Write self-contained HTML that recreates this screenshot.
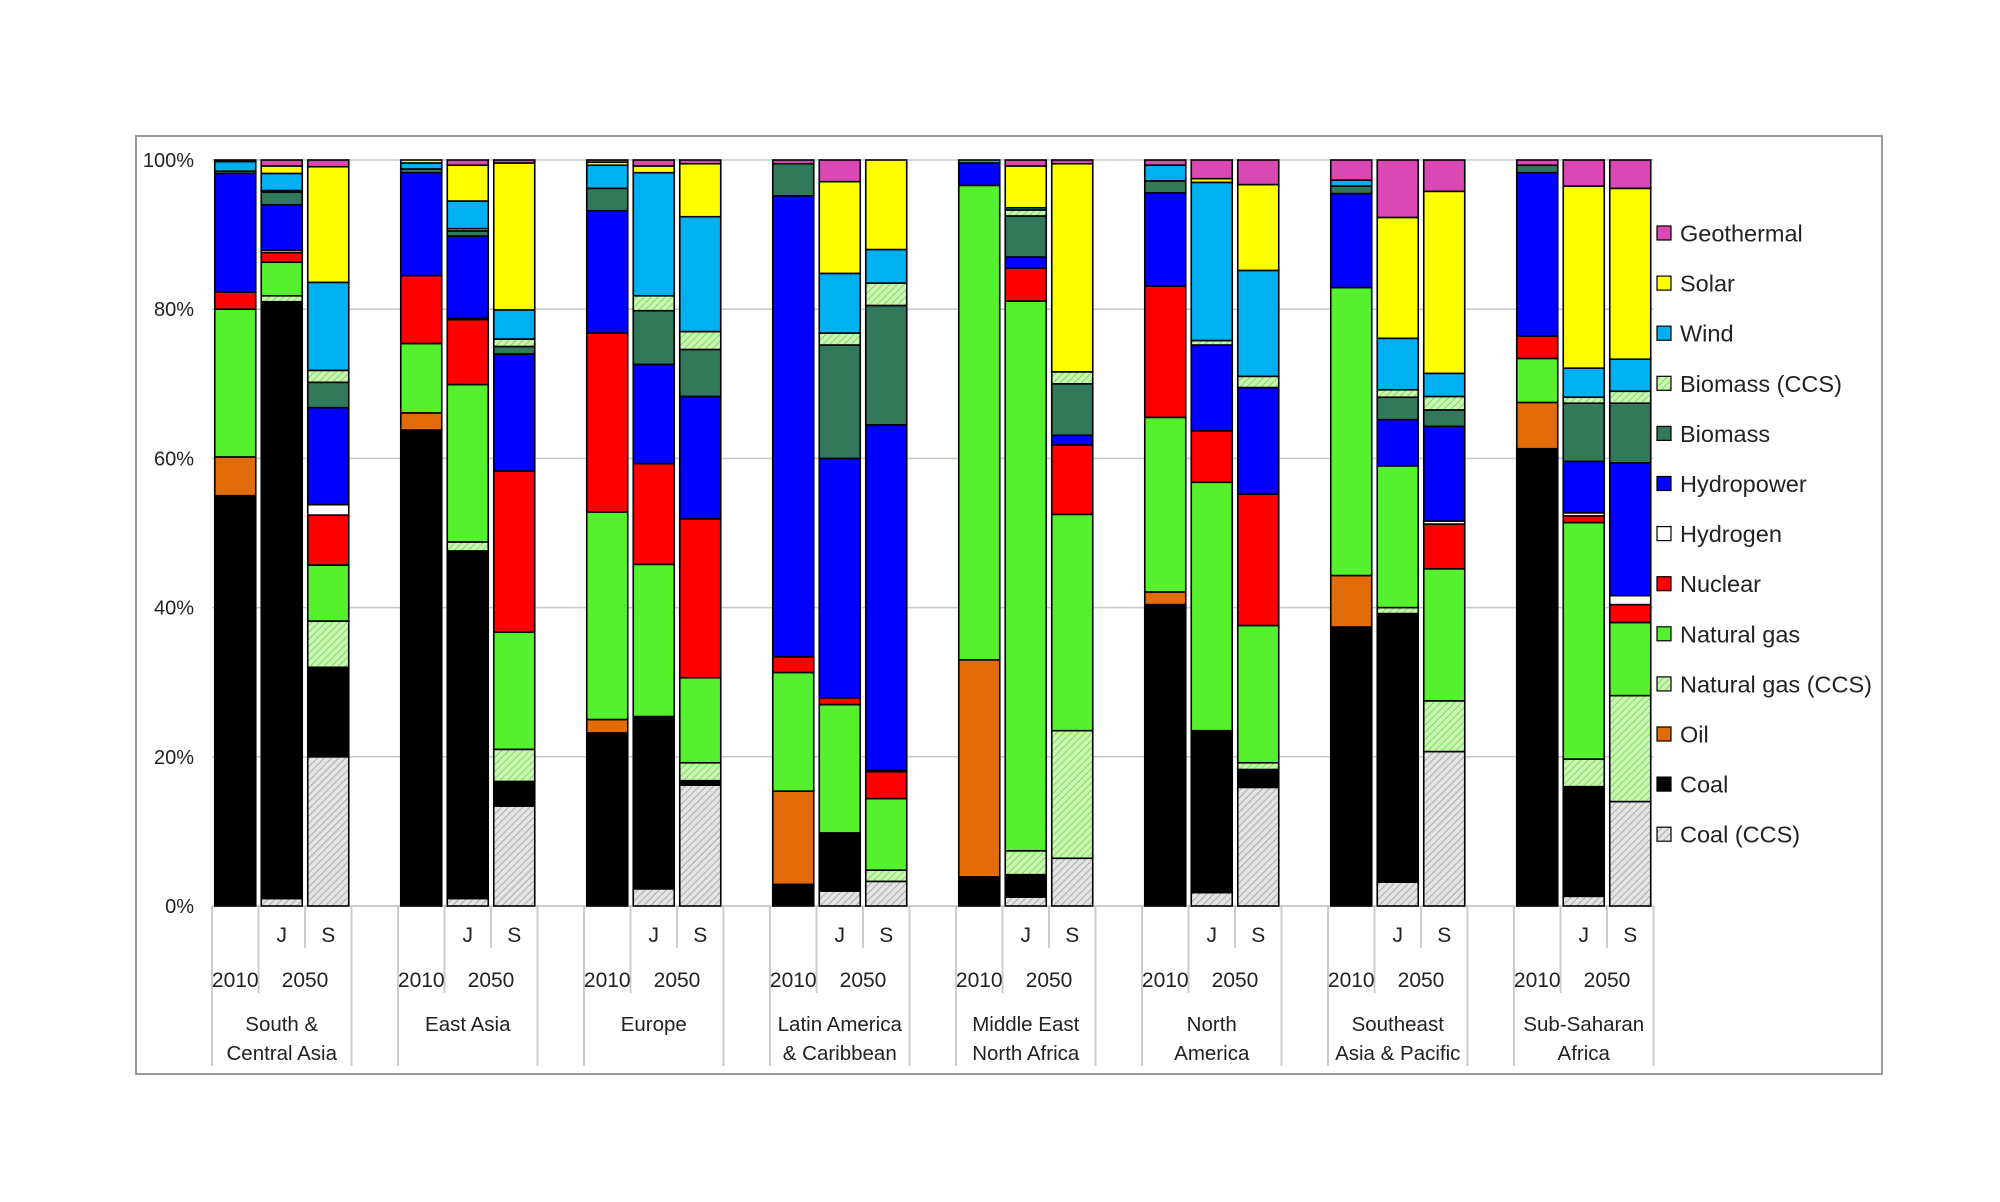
<!DOCTYPE html>
<html><head><meta charset="utf-8"><style>
body{margin:0;background:#fff;}
svg text{font-family:"Liberation Sans",sans-serif;fill:#222;}
</style></head><body>
<svg id="chart" width="2000" height="1197" xmlns="http://www.w3.org/2000/svg">
<defs>
<pattern id="hatchGray" patternUnits="userSpaceOnUse" width="5" height="5" patternTransform="rotate(45)"><rect width="5" height="5" fill="#e4e4e4"/><line x1="0" y1="0" x2="0" y2="5" stroke="#9a9a9a" stroke-width="1.5"/></pattern>
<pattern id="hatchGreen" patternUnits="userSpaceOnUse" width="5" height="5" patternTransform="rotate(45)"><rect width="5" height="5" fill="#c8f7b0"/><line x1="0" y1="0" x2="0" y2="5" stroke="#6fcf55" stroke-width="1.5"/></pattern>
</defs>
<rect x="136" y="136" width="1746" height="938" fill="#fff" stroke="#999" stroke-width="2"/>
<g id="grid"></g><g id="bars"></g><g id="xaxis"></g><g id="yaxis"></g><g id="legend"></g>
</svg>
<script>
const regions=["South &|Central Asia","East Asia","Europe","Latin America|& Caribbean","Middle East|North Africa","North|America","Southeast|Asia & Pacific","Sub-Saharan|Africa"];
const scenarios=["2010","J","S"];
const seriesNames=["Coal (CCS)","Coal","Oil","Natural gas (CCS)","Natural gas","Nuclear","Hydrogen","Hydropower","Biomass","Biomass (CCS)","Wind","Solar","Geothermal"];
const coalCCS=[0,1,20, 0,1,13.4, 0,2.3,16.2, 0,2,3.3, 0,1.2,6.4, 0,1.8,15.9, 0,3.2,20.7, 0,1.3,14];
const coal=[55,80,12, 63.8,46.6,3.3, 23.2,23.1,0.6, 2.9,7.8,0, 3.9,3,0, 40.4,21.7,2.4, 37.4,36,0, 61.3,14.7,0];
const oil=[5.2,0,0, 2.3,0,0, 1.8,0,0, 12.5,0,0, 29.1,0,0, 1.7,0,0, 6.9,0,0, 6.2,0,0];
const gasCCS=[0,0.8,6.2, 0,1.2,4.3, 0,0,2.4, 0,0,1.5, 0,3.2,17.1, 0,0,0.9, 0,0.8,6.8, 0,3.7,14.2];
const gas=[19.8,4.5,7.5, 9.3,21.1,15.7, 27.8,20.4,11.4, 15.9,17.2,9.6, 63.6,73.7,29, 23.4,33.3,18.4, 38.6,19,17.7, 5.9,31.7,9.8];
const nuclear=[2.3,1.3,6.7, 9.1,8.7,21.6, 24,13.5,21.3, 2.1,0.9,3.6, 0,4.4,9.3, 17.6,6.9,17.6, 0,0,6, 3,0.9,2.4];
const hydrogen=[0,0.3,1.4, 0,0.2,0, 0,0,0, 0,0,0.2, 0,0,0, 0,0,0, 0,0,0.4, 0,0.4,1.2];
const hydro=[15.9,6.1,13, 13.8,11,15.7, 16.4,13.3,16.4, 61.8,32.1,46.3, 3,1.5,1.3, 12.5,11.5,14.3, 12.6,6.2,12.7, 21.9,6.9,17.8];
const biomass=[0.3,1.7,3.4, 0.5,0.7,1, 3,7.2,6.3, 4.3,15.2,16, 0,5.5,6.9, 1.6,0,0, 1,3,2.2, 1,7.8,8];
const bioCCS=[0,0.2,1.6, 0,0.3,1, 0,2,2.4, 0,1.6,3, 0,0.8,1.6, 0,0.6,1.5, 0,1,1.8, 0,0.8,1.6];
const wind=[1.3,2.3,11.8, 0.8,3.7,3.9, 3.1,16.5,15.4, 0,8,4.5, 0.4,0.3,0, 2.1,21.2,14.2, 0.8,6.9,3.1, 0,3.9,4.3];
const solar=[0,1,15.5, 0.4,4.8,19.7, 0.4,0.9,7.1, 0,12.3,12, 0,5.6,27.9, 0,0.5,11.5, 0,16.2,24.4, 0,24.4,22.9];
const geothermal=[0.2,0.8,0.9, 0,0.7,0.4, 0.3,0.8,0.5, 0.5,2.9,0, 0,0.8,0.5, 0.7,2.5,3.3, 2.7,7.7,4.2, 0.7,3.5,3.8];
const yTicks=["0%","20%","40%","60%","80%","100%"];

const series=[coalCCS,coal,oil,gasCCS,gas,nuclear,hydrogen,hydro,biomass,bioCCS,wind,solar,geothermal];
const fills=["url(#hatchGray)","#000000","#E36C0A","url(#hatchGreen)","#55F02E","#FF0000","#FFFFFF","#0000FF","#31795A","url(#hatchGreen)","#00B0F0","#FFFF00","#DA48B4"];
const NS="http://www.w3.org/2000/svg";
const X0=212,SLOT=46.5,Y0=906,Y100=160,BW=41;
function yPos(p){return Y0-(Y0-Y100)*p/100;}
function slotX(i){return X0+(Math.floor(i/3)*4+i%3)*SLOT;}
function mk(tag,attrs,parent){const e=document.createElementNS(NS,tag);for(const k in attrs)e.setAttribute(k,attrs[k]);parent.appendChild(e);return e;}
const grid=document.getElementById('grid'),bars=document.getElementById('bars'),xa=document.getElementById('xaxis'),ya=document.getElementById('yaxis'),lg=document.getElementById('legend');
const xEnd=X0+31*SLOT;
yTicks.forEach((t,i)=>{const p=i*20;const y=yPos(p);
 const l=mk('line',{x1:X0,x2:xEnd,y1:y,y2:y,stroke:i===0?'#bbb':'#c8c8c8','stroke-width':1.5},grid);
 
 
 const tx=mk('text',{x:194,y:y+7,'text-anchor':'end','font-size':20},ya);tx.textContent=t;
 
 
});
const nBars=regions.length*scenarios.length;
for(let b=0;b<nBars;b++){
 let tot=0;series.forEach(s=>tot+=s[b]);
 let cum=0;const x=slotX(b)+(SLOT-BW)/2;
 const g=mk('g',{},bars);
 
 
 series.forEach((s,k)=>{const v=s[b]*100/tot;if(v<=0)return;
  const y1=yPos(cum),y2=yPos(cum+v);cum+=v;
  const r=mk('rect',{x:x,y:y2,width:BW,height:y1-y2,fill:fills[k],stroke:'#000','stroke-width':1.6},g);
  
  
 });
}
// category axis
regions.forEach((r,gi)=>{const G=X0+gi*4*SLOT;
 [[G,1066],[G+SLOT,993],[G+2*SLOT,948],[G+3*SLOT,1066]].forEach(([x,y2])=>{
  const l=mk('line',{x1:x,x2:x,y1:Y0,y2:y2,stroke:'#ccc','stroke-width':2},xa);
  
  
 });
 const t=[["J",G+1.5*SLOT,942],["S",G+2.5*SLOT,942],["2010",G+0.5*SLOT,987],["2050",G+2*SLOT,987]];
 t.forEach(([s,x,y])=>{const e=mk('text',{x:x,y:y,'text-anchor':'middle','font-size':21},xa);e.textContent=s;
  
  });
 r.split('|').forEach((line,li)=>{const e=mk('text',{x:G+1.5*SLOT,y:1031+li*29,'text-anchor':'middle','font-size':20.5},xa);e.textContent=line;
  
  });
});
// legend
for(let k=12;k>=0;k--){const i=12-k;const y=234+i*50.1;
 const g=mk('g',{},lg);
 
 
 mk('rect',{x:1657,y:y-8,width:14,height:14,fill:fills[k],stroke:'#000','stroke-width':1.2},g);
 const e=mk('text',{x:1680,y:y+7.5,'font-size':23.5},g);e.textContent=seriesNames[k];
}
</script>
</body></html>
